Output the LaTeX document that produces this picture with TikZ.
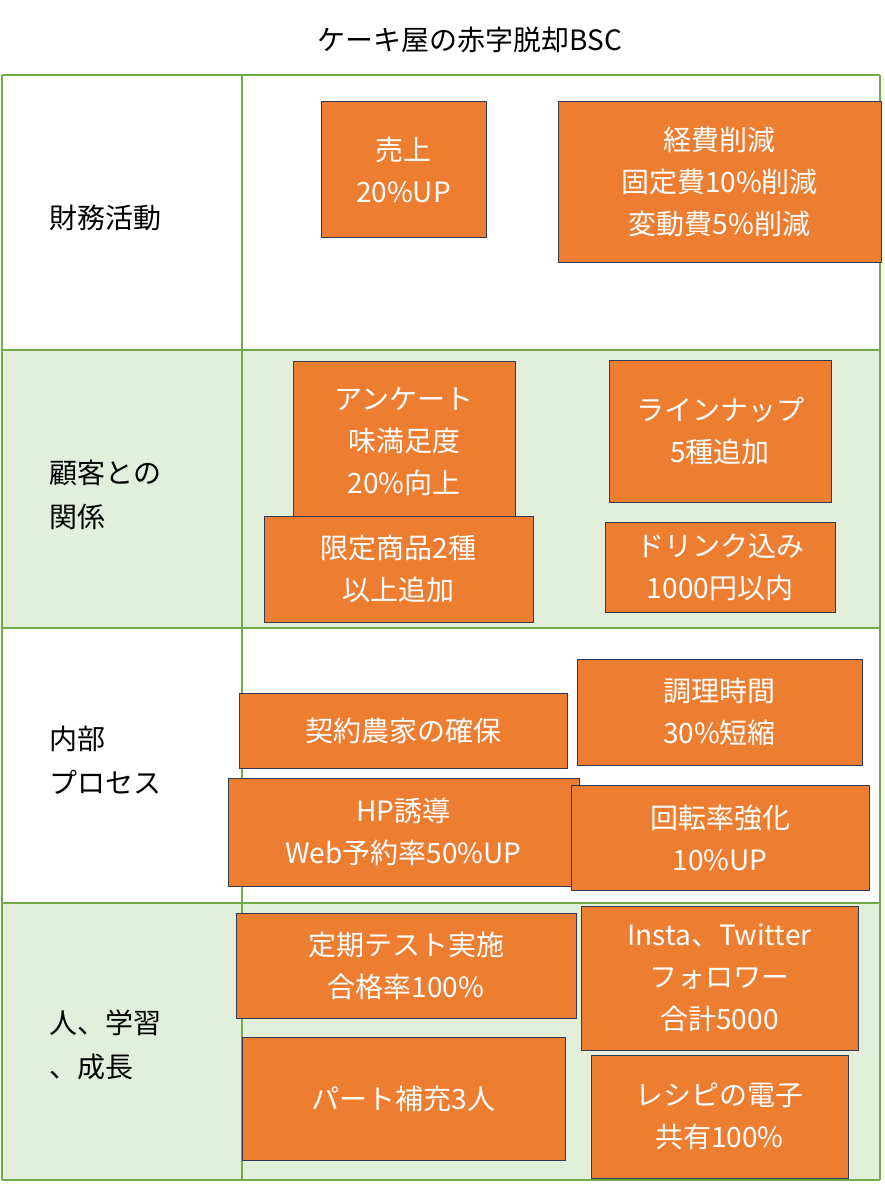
\documentclass[tikz,border=0pt]{standalone}
\usepackage{fontspec}
\setmainfont{Noto Sans CJK JP}
\begin{document}
\begin{tikzpicture}[x=1pt,y=-1pt,
  grid/.style={draw=green!50!black!60!lime!80!black, line width=1.5pt},
  ob/.style={draw=blue!30!black, line width=1pt, fill=orange!85!red!95!yellow},
  bt/.style={text=white, align=center, font=\fontsize{28}{42}\selectfont},
  lt/.style={anchor=west, align=left, font=\fontsize{28}{44}\selectfont}]
\definecolor{gr}{HTML}{70AD47}\definecolor{lg}{HTML}{E2EFDA}\definecolor{og}{HTML}{ED7D31}\definecolor{nv}{HTML}{2F3B55}
\useasboundingbox (0,0) rectangle (884,1185);
\fill[white] (0,0) rectangle (884,1185);
\fill[lg] (2,350) rectangle (880,628);
\fill[lg] (2,903) rectangle (880,1180);
\foreach \y in {75,350,628,903,1180}{\draw[gr,line width=1.5pt] (2,\y) -- (880,\y);}
\draw[gr,line width=1.5pt] (2,75) -- (2,1180) (242,75) -- (242,1180) (880,75) -- (880,1180);
\node[font=\fontsize{28}{34}\selectfont] (title) at (470,40) {ケーキ屋の赤字脱却BSC};
\node[lt] (l1) at (46,218) {財務活動};
\node[lt] (l2) at (46,495) {顧客との\\関係};
\node[lt] (l3) at (46,760) {内部\\プロセス};
\node[lt] (l4) at (46,1045) {人、学習\\、成長};
\newcommand\bx[6]{\filldraw[og,draw=nv,line width=1pt] (#2,#3) rectangle (#4,#5); \node[bt] (#1) at ({(#2+#4)/2},{(#3+#5)/2}) {#6};}
\bx{b1}{321}{102}{486}{237}{売上\\20\%UP}
\bx{b2}{558}{102}{881}{262}{経費削減\\固定費10\%削減\\変動費5\%削減}
\bx{b3}{293}{361}{515}{522}{アンケート\\味満足度\\20\%向上}
\bx{b4}{609}{360}{831}{502}{ラインナップ\\5種追加}
\bx{b5}{264}{516}{533}{622}{限定商品2種\\以上追加}
\bx{b6}{605}{522}{835}{612}{ドリンク込み\\1000円以内}
\bx{b7}{239}{693}{567}{768}{契約農家の確保}
\bx{b8}{577}{659}{862}{765}{調理時間\\30\%短縮}
\bx{b9}{228}{778}{579}{886}{HP誘導\\Web予約率50\%UP}
\bx{b10}{571}{785}{869}{890}{回転率強化\\10\%UP}
\bx{b11}{236}{913}{576}{1018}{定期テスト実施\\合格率100\%}
\bx{b12}{581}{906}{858}{1050}{Insta、Twitter\\フォロワー\\合計5000}
\bx{b13}{242}{1037}{565}{1160}{パート補充3人}
\bx{b14}{591}{1055}{848}{1178}{レシピの電子\\共有100\%}
\end{tikzpicture}
\end{document}
